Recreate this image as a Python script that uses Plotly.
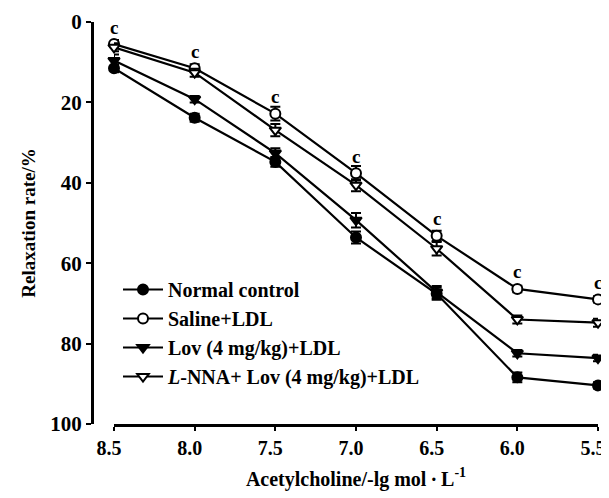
import plotly.graph_objects as go

# ---- data ----
x_vals = [8.5, 8.0, 7.5, 7.0, 6.5, 6.0, 5.5]
x_ticks = ["8.5", "8.0", "7.5", "7.0", "6.5", "6.0", "5.5"]

normal = [11.5, 23.8, 34.8, 53.6, 67.6, 88.4, 90.4]
normal_err = [1.0, 1.0, 1.2, 1.5, 1.5, 1.2, 0.8]

saline = [5.5, 11.5, 22.8, 37.6, 53.2, 66.4, 69.0]
saline_err = [1.0, 1.0, 1.7, 1.8, 1.3, 0.8, 0.8]

lov = [9.6, 19.2, 32.6, 49.3, 67.2, 82.4, 83.6]
lov_err = [1.5, 0.8, 1.2, 1.8, 1.5, 0.8, 0.8]

lnna = [6.3, 12.6, 26.9, 40.6, 56.4, 74.0, 74.8]
lnna_err = [1.0, 1.0, 1.5, 1.5, 1.7, 1.0, 1.0]

sig_labels = ["c", "c", "c", "c", "c", "c", "c"]

names = ["Normal control", "Saline+LDL", "Lov (4 mg/kg)+LDL",
         "<i>L</i>-NNA+ Lov (4 mg/kg)+LDL"]

FONT = "Liberation Serif, Times New Roman, serif"

fig = go.Figure()

def add_series(y, err, name, symbol, fill):
    fig.add_trace(go.Scatter(
        x=x_vals, y=y, name=name, mode="lines+markers",
        line=dict(color="black", width=2.2),
        marker=dict(symbol=symbol, size=10, color=fill,
                    line=dict(color="black", width=2)),
        error_y=dict(type="data", array=err, visible=True,
                     color="black", thickness=2, width=5),
        cliponaxis=False,
    ))

add_series(normal, normal_err, names[0], "circle", "black")
add_series(saline, saline_err, names[1], "circle", "white")
add_series(lov, lov_err, names[2], "triangle-down", "black")
add_series(lnna, lnna_err, names[3], "triangle-down", "white")

for xv, yv, lab in zip(x_vals, saline, sig_labels):
    fig.add_annotation(x=xv, y=yv, text=lab, showarrow=False,
                       yshift=17, yanchor="middle",
                       font=dict(family=FONT, size=19, color="black", weight="bold"))

# the page body adds an 8px offset; compensate so pixel positions match
OFF = 8
W, H = 609 - OFF, 498 - OFF
L, R, T, B = 40 - OFF, 11, 22 - OFF, 74
plot_w = W - L - R
plot_h = H - T - B
x_start = (114 - 40) / plot_w
y_pos = (92 - 40) / plot_w

fig.update_layout(
    width=W, height=H,
    margin=dict(l=L, r=R, t=T, b=B, autoexpand=False),
    paper_bgcolor="white", plot_bgcolor="white",
    font=dict(family=FONT, size=20, color="black", weight="bold"),
    showlegend=True,
    legend=dict(x=(118 - 40) / plot_w, y=1 - (270 - 22) / plot_h,
                xanchor="left", yanchor="top",
                bgcolor="rgba(0,0,0,0)", borderwidth=0,
                itemwidth=40,
                font=dict(family=FONT, size=20, color="black", weight="bold")),
    xaxis=dict(
        domain=[x_start, 1],
        range=[8.5, 5.5],
        tickmode="array", tickvals=x_vals, ticktext=x_ticks,
        showgrid=False, zeroline=False,
        showline=True, linecolor="black", linewidth=3,
        ticks="outside", ticklen=4, tickwidth=2, tickcolor="black",
        ticklabeloverflow="allow", ticklabelshift=5,
        tickfont=dict(family=FONT, size=20, weight="bold"),
        title=dict(text="Acetylcholine/-lg mol\u2009·\u2009L<sup>-1</sup>",
                   standoff=14,
                   font=dict(family=FONT, size=20, weight="bold")),
        automargin=False,
    ),
    yaxis=dict(
        anchor="free", position=y_pos,
        range=[100, 0],
        tickmode="array", tickvals=[0, 20, 40, 60, 80, 100],
        ticktext=["0", "20", "40", "60", "80", "100"],
        showgrid=False, zeroline=False,
        showline=True, linecolor="black", linewidth=3,
        ticks="outside", ticklen=5, tickwidth=2, tickcolor="black",
        ticklabeloverflow="allow",
        tickfont=dict(family=FONT, size=21, weight="bold"),
        title=dict(text="Relaxation rate/%\u00a0\u00a0\u00a0\u00a0\u00a0", standoff=8,
                   font=dict(family=FONT, size=19, weight="bold")),
        automargin=False,
    ),
)

fig.write_html("out.html")
